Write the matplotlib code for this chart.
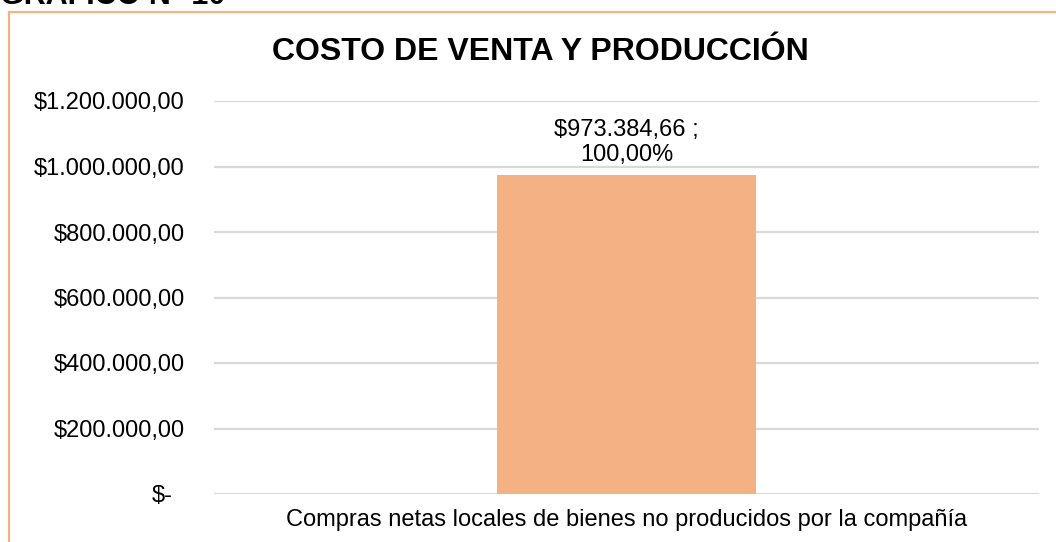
import matplotlib.pyplot as plt
from matplotlib.patches import Rectangle
from matplotlib.transforms import ScaledTranslation

categories = ['Compras netas locales de bienes no producidos por la compañía']
values = [973384.66]
shares = [100.00]
y_ticks = [0, 200000, 400000, 600000, 800000, 1000000, 1200000]
y_tick_labels = ['$-', '$200.000,00', '$400.000,00', '$600.000,00',
                 '$800.000,00', '$1.000.000,00', '$1.200.000,00']

plt.rcParams['font.family'] = ['Liberation Sans', 'DejaVu Sans']

W, H = 1056, 542
fig = plt.figure(figsize=(W / 100, H / 100), dpi=100)

# orange frame of the chart object (runs off the right and bottom edges)
fig.patches.append(Rectangle((9 / W, -0.05), 1.2, 1 - 12 / H + 0.05,
                             transform=fig.transFigure, fill=False,
                             edgecolor='#F4B183', linewidth=1.6))

# heading above the frame, clipped by the top edge as in the source
fig.text(0.0, 1 - 4.5 / H, 'GRAFICO N° 10', fontsize=22, fontweight='bold',
         ha='left', va='baseline')

ax = fig.add_axes([214 / W, 1 - 494 / H, (1039 - 214) / W, (494 - 101) / H])
ax.bar(range(len(categories)), values, width=0.314, color='#F4B183', zorder=3)
ax.set_xlim(-0.5, 0.5)
ax.set_ylim(0, 1200000)
ax.set_yticks(y_ticks)
ax.set_yticklabels(y_tick_labels, fontsize=17)
ax.set_xticks(range(len(categories)))
ax.set_xticklabels(categories, fontsize=17)
ax.tick_params(length=0)
ax.tick_params(axis='y', pad=21)
ax.tick_params(axis='x', pad=11)
for s in ax.spines.values():
    s.set_visible(False)
ax.grid(axis='y', color='#D9D9D9', linewidth=1.6, zorder=0)

# accounting format pads the zero label on the right
zero_lbl = ax.get_yticklabels()[0]
zero_lbl.set_transform(zero_lbl.get_transform() +
                       ScaledTranslation(-12 / 100, 0, fig.dpi_scale_trans))

for i, (v, p) in enumerate(zip(values, shares)):
    lbl = f"${v:,.2f}".replace(',', 'X').replace('.', ',').replace('X', '.')
    pct = f"{p:.2f}%".replace('.', ',')
    ax.annotate(f"{lbl} ;\n{pct}", (i, v),
                xytext=(0, 9), textcoords='offset pixels',
                ha='center', va='bottom', fontsize=17, linespacing=1.2)

fig.text(540 / W, 1 - 52 / H, 'COSTO DE VENTA Y PRODUCCIÓN', fontsize=23,
         fontweight='bold', ha='center', va='center')

fig.savefig('out.png', dpi=100)
